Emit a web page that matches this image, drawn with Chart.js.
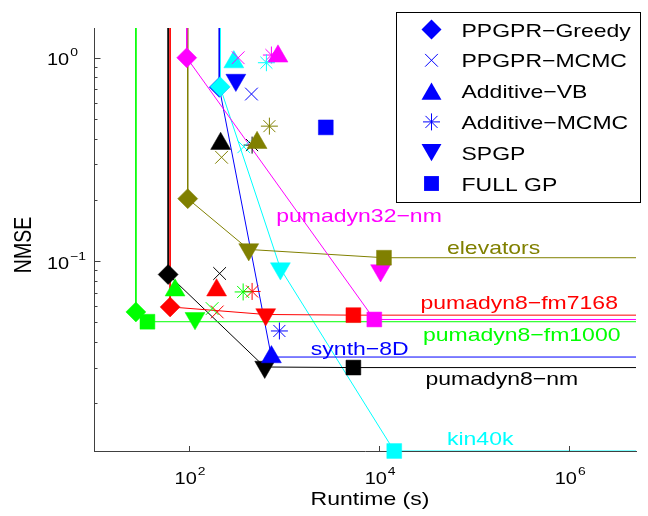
<!DOCTYPE html>
<html><head><meta charset="utf-8">
<script src="https://cdn.jsdelivr.net/npm/chart.js@4/dist/chart.umd.min.js"></script>
<style>html,body{margin:0;padding:0;background:#fff;}canvas{display:block;}</style>
</head><body>
<canvas id="c" width="648" height="516"></canvas>
<script>
// ---------------- data ----------------
const problems = ['pumadyn32\u2212nm', 'elevators', 'pumadyn8\u2212fm7168', 'pumadyn8\u2212fm1000', 'synth\u22128D', 'pumadyn8\u2212nm', 'kin40k'];
const problemColors = ['#ff00ff', '#808000', '#ff0000', '#00ff00', '#0000ff', '#000000', '#00ffff'];
const methods = ['PPGPR\u2212Greedy', 'PPGPR\u2212MCMC', 'Additive\u2212VB', 'Additive\u2212MCMC', 'SPGP', 'FULL GP'];

// runtime (s) and NMSE, one entry per problem (same order as `problems`)
const greedyRuntime  = [94.6, 96.9, 63.2, 27.6, 208, 60.3, 212];
const greedyNmse     = [1.0, 0.203, 0.0596, 0.0563, 0.715, 0.086, 0.72];
const mcmcRuntime    = [329, 220, 198, 175, 454, 210, 377];
const mcmcNmse       = [1.0, 0.324, 0.0563, 0.0585, 0.663, 0.087, 0.365];
const addVbRuntime   = [863, 520, 195, 71.3, 736, 215, 296];
const addVbNmse      = [1.016, 0.382, 0.072, 0.072, 0.0338, 0.378, 0.952];
const addMcmcRuntime = [736, 701, 461, 371, 893, 461, 652];
const addMcmcNmse    = [1.031, 0.461, 0.071, 0.0706, 0.0454, 0.372, 0.945];
const spgpRuntime    = [10370, 425, 641, 115.6, 311, 626, 915];
const spgpNmse       = [0.090, 0.1142, 0.0547, 0.0524, 0.777, 0.0302, 0.092];
const fullRuntime    = [8906, 11256, 5364, 36.5, 2749, 5364, 14434];
const fullNmse       = [0.0517, 0.104, 0.0543, 0.0504, 0.4546, 0.0300, 0.01167];

// methods (indices into `methods`) joined by each problem's frontier line
const frontier = [[0, 5], [0, 4, 5], [0, 4, 5], [0, 5], [0, 2], [0, 4, 5], [0, 4, 5]];

// text label anchors (data coordinates: runtime, NMSE at baseline)
const labelRuntime = [828, 51760, 27230, 28980, 1914, 30720, 51760];
const labelNmse    = [0.156, 0.1085, 0.0580, 0.0407, 0.0346, 0.02465, 0.0125];

// axes
const xMin = 10, xMax = 5.05e6, yMin = 0.01167, yMax = 1.40;
const xTickValues = [1e2, 1e4, 1e6];
const xTickExps   = ['2', '4', '6'];
const yTickValues = [1, 0.1];
const yTickExps   = ['0', '\u22121'];

// ---------------- styles ----------------
const FONT = '"Liberation Sans", Arial, Helvetica, sans-serif';
const SX = 1.21;          // horizontal text stretch seen in the reference
const AXIS_COLOR = '#404040';
const methodRuntimes = [greedyRuntime, mcmcRuntime, addVbRuntime, addMcmcRuntime, spgpRuntime, fullRuntime];
const methodNmses = [greedyNmse, mcmcNmse, addVbNmse, addMcmcNmse, spgpNmse, fullNmse];
const methodStyle = [
  {pointStyle: 'rectRot', radius: 10, rotation: 0, filled: true, order: 1},
  {pointStyle: 'crossRot', radius: 9, rotation: 0, filled: false, order: 2},
  {pointStyle: 'triangle', radius: 11.5, rotation: 0, filled: true, order: 3},
  {pointStyle: 'star', radius: 8.5, rotation: 0, filled: false, order: 6},
  {pointStyle: 'triangle', radius: 11.5, rotation: 180, filled: true, order: 5},
  {pointStyle: 'rect', radius: 10.5, rotation: 0, filled: true, order: 4}
];

const datasets = [];
problems.forEach((p, i) => {
  const f = frontier[i];
  const pts = [{x: methodRuntimes[f[0]][i], y: yMax}];
  f.forEach(m => pts.push({x: methodRuntimes[m][i], y: methodNmses[m][i]}));
  pts.push({x: xMax, y: methodNmses[f[f.length - 1]][i]});
  datasets.push({
    label: p, data: pts, showLine: true, pointRadius: 0, borderColor: problemColors[i],
    borderWidth: 1, fill: false, tension: 0, order: 20
  });
});
methods.forEach((m, k) => {
  const st = methodStyle[k];
  datasets.push({
    label: m,
    data: problems.map((p, i) => ({x: methodRuntimes[k][i], y: methodNmses[k][i]})),
    showLine: false,
    pointStyle: st.pointStyle,
    pointRadius: st.radius,
    pointRotation: st.rotation,
    pointBackgroundColor: problemColors,
    pointBorderColor: problemColors,
    pointBorderWidth: st.filled ? 0.5 : 1,
    clip: false,
    order: st.order
  });
});

function sText(ctx, str, x, y, size, color, align, sx) {
  sx = sx || SX;
  ctx.save();
  ctx.font = size + 'px ' + FONT;
  ctx.fillStyle = color;
  ctx.textBaseline = 'alphabetic';
  const w = ctx.measureText(str).width * sx;
  let x0 = x;
  if (align === 'center') x0 = x - w / 2; else if (align === 'right') x0 = x - w;
  ctx.translate(x0, y);
  ctx.scale(sx, 1);
  ctx.fillText(str, 0, 0);
  ctx.restore();
  return w;
}
function textW(ctx, str, size, sx) {
  ctx.save(); ctx.font = size + 'px ' + FONT;
  const w = ctx.measureText(str).width * (sx || SX); ctx.restore(); return w;
}
function powLabel(ctx, exp, x, baseline, align) {
  const bs = 16.5, ss = 11.5;
  const wb = textW(ctx, '10', bs), ws = textW(ctx, exp, ss);
  const total = wb + 1 + ws;
  let left = x;
  if (align === 'center') left = x - total / 2; else if (align === 'right') left = x - total;
  sText(ctx, '10', left, baseline, bs, '#000');
  sText(ctx, exp, left + wb + 1, baseline - 9, ss, '#000');
}
function marker(ctx, style, x, y, r, rot, color) {
  ctx.save();
  ctx.fillStyle = color; ctx.strokeStyle = color; ctx.lineWidth = 1;
  ctx.beginPath();
  const d = r * Math.SQRT1_2;
  if (style === 'rectRot') {
    ctx.moveTo(x, y - r); ctx.lineTo(x + r, y); ctx.lineTo(x, y + r); ctx.lineTo(x - r, y); ctx.closePath(); ctx.fill();
  } else if (style === 'crossRot') {
    ctx.moveTo(x - d, y - d); ctx.lineTo(x + d, y + d); ctx.moveTo(x - d, y + d); ctx.lineTo(x + d, y - d); ctx.stroke();
  } else if (style === 'triangle') {
    const s = rot ? -1 : 1;
    ctx.moveTo(x, y - s * r); ctx.lineTo(x + 0.866 * r, y + s * 0.5 * r); ctx.lineTo(x - 0.866 * r, y + s * 0.5 * r); ctx.closePath(); ctx.fill();
  } else if (style === 'star') {
    ctx.moveTo(x, y - r); ctx.lineTo(x, y + r); ctx.moveTo(x - r, y); ctx.lineTo(x + r, y);
    ctx.moveTo(x - d, y - d); ctx.lineTo(x + d, y + d); ctx.moveTo(x - d, y + d); ctx.lineTo(x + d, y - d); ctx.stroke();
  } else if (style === 'rect') {
    ctx.rect(x - d, y - d, 2 * d, 2 * d); ctx.fill();
  }
  ctx.restore();
}

const decor = {
  id: 'decor',
  afterDatasetsDraw(chart) {
    const ctx = chart.ctx, xs = chart.scales.x, ys = chart.scales.y, ca = chart.chartArea;
    // inward tick marks
    ctx.save();
    ctx.strokeStyle = AXIS_COLOR; ctx.lineWidth = 1;
    ctx.beginPath();
    xTickValues.forEach(v => {
      const px = Math.round(xs.getPixelForValue(v)) + 0.5;
      ctx.moveTo(px, ca.bottom); ctx.lineTo(px, ca.bottom - 5);
    });
    for (let e = -2; e <= 0; e++) {
      for (let k = 1; k <= 9; k++) {
        const v = k * Math.pow(10, e);
        if (v < yMin || v > yMax) continue;
        const py = Math.round(ys.getPixelForValue(v)) + 0.5;
        const len = (k === 1) ? 6.5 : 3.5;
        ctx.moveTo(ca.left, py); ctx.lineTo(ca.left + len, py);
      }
    }
    ctx.stroke();
    ctx.restore();
    // tick labels
    xTickValues.forEach((v, i) => powLabel(ctx, xTickExps[i], xs.getPixelForValue(v) + 1, 484, 'center'));
    yTickValues.forEach((v, i) => {
      const py = ys.getPixelForValue(v);
      powLabel(ctx, yTickExps[i], 47, py + 7.5, 'left');
    });
    // axis titles
    sText(ctx, 'Runtime (s)', 370, 505, 19, '#000', 'center');
    ctx.save();
    ctx.translate(24, 245);
    ctx.scale(1.22, 1);
    ctx.rotate(-Math.PI / 2);
    ctx.font = '19.5px ' + FONT;
    ctx.fillStyle = '#000';
    ctx.textAlign = 'center';
    ctx.textBaseline = 'middle';
    ctx.fillText('NMSE', 0, 0);
    ctx.restore();
    // problem labels
    problems.forEach((p, i) => {
      sText(ctx, p, xs.getPixelForValue(labelRuntime[i]), ys.getPixelForValue(labelNmse[i]), 19, problemColors[i], 'left');
    });
    // legend
    const bx = 396.5, by = 12.5, bw = 244, bh = 190;
    ctx.save();
    ctx.fillStyle = '#fff'; ctx.fillRect(bx, by, bw, bh);
    ctx.strokeStyle = '#000'; ctx.lineWidth = 1; ctx.strokeRect(bx, by, bw, bh);
    ctx.restore();
    methods.forEach((m, k) => {
      const st = methodStyle[k];
      const ry = 29.5 + 30.8 * k;
      let my = ry;
      if (st.pointStyle === 'triangle') my = ry + (st.rotation ? -1 : 1) * st.radius * 0.25;
      marker(ctx, st.pointStyle, 431.5, my, st.radius, st.rotation, '#0000ff');
      sText(ctx, m, 461.5, ry + 7, 19, '#000', 'left');
    });
  }
};

new Chart(document.getElementById('c'), {
  type: 'scatter',
  data: {datasets},
  options: {
    responsive: false,
    animation: false,
    devicePixelRatio: 1,
    events: [],
    layout: {padding: {left: 0, right: 10, top: 28, bottom: 0}},
    plugins: {legend: {display: false}, tooltip: {enabled: false}, title: {display: false}},
    scales: {
      x: {
        type: 'logarithmic', min: xMin, max: xMax, position: 'bottom',
        grid: {display: false, drawTicks: false},
        border: {display: true, color: AXIS_COLOR, width: 1},
        ticks: {display: false},
        afterFit(s) { s.height = 65; }
      },
      y: {
        type: 'logarithmic', min: yMin, max: yMax, position: 'left',
        grid: {display: false, drawTicks: false},
        border: {display: true, color: AXIS_COLOR, width: 1},
        ticks: {display: false},
        afterFit(s) { s.width = 94; }
      }
    }
  },
  plugins: [decor]
});
</script>
</body></html>
